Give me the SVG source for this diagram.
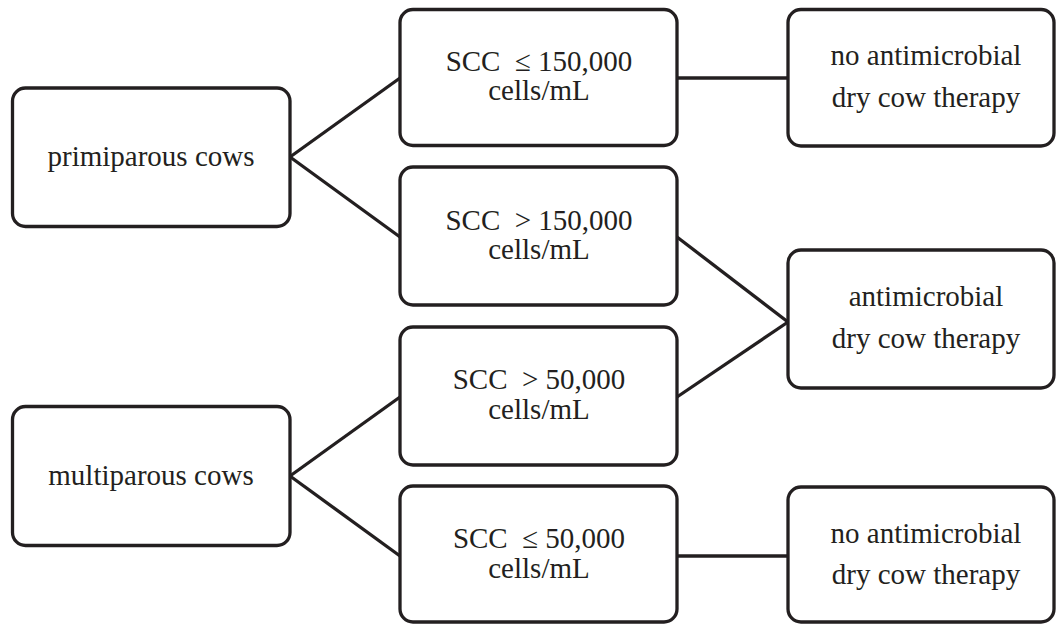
<svg xmlns="http://www.w3.org/2000/svg" width="1057" height="624" viewBox="0 0 1057 624">
<style>
.box{fill:#fff;stroke:#231f20;stroke-width:3.3}
.ln{stroke:#231f20;stroke-width:3.3;fill:none}
.t{font-family:'Liberation Serif',serif;font-size:29px;fill:#231f20;text-anchor:middle}
</style>
<rect width="1057" height="624" fill="#fff"/>
<g id="connectors">
<line class="ln" x1="290" y1="157" x2="400" y2="78"/>
<line class="ln" x1="290" y1="157" x2="400" y2="237"/>
<line class="ln" x1="290" y1="476" x2="400" y2="397"/>
<line class="ln" x1="290" y1="476" x2="400" y2="556"/>
<line class="ln" x1="677" y1="78" x2="788" y2="78"/>
<line class="ln" x1="677" y1="237" x2="788" y2="322"/>
<line class="ln" x1="677" y1="397" x2="788" y2="322"/>
<line class="ln" x1="677" y1="556" x2="788" y2="556"/>
</g>
<g id="primiparous">
<rect class="box" x="12.5" y="88" width="277.5" height="138.5" rx="13"/>
<text class="t" x="151" y="166">primiparous cows</text>
</g>
<g id="multiparous">
<rect class="box" x="12.5" y="406.5" width="277.5" height="139" rx="13"/>
<text class="t" x="151" y="485">multiparous cows</text>
</g>
<g id="scc1">
<rect class="box" x="400" y="9.5" width="277" height="136" rx="13"/>
<text class="t" x="539" y="71" xml:space="preserve">SCC  ≤ 150,000</text>
<text class="t" x="539" y="100">cells/mL</text>
</g>
<g id="scc2">
<rect class="box" x="400" y="167" width="277" height="138" rx="13"/>
<text class="t" x="539" y="230" xml:space="preserve">SCC  &gt; 150,000</text>
<text class="t" x="539" y="259">cells/mL</text>
</g>
<g id="scc3">
<rect class="box" x="400" y="327" width="277" height="138" rx="13"/>
<text class="t" x="539" y="389" xml:space="preserve">SCC  &gt; 50,000</text>
<text class="t" x="539" y="419">cells/mL</text>
</g>
<g id="scc4">
<rect class="box" x="400" y="486" width="277" height="136" rx="13"/>
<text class="t" x="539" y="548" xml:space="preserve">SCC  ≤ 50,000</text>
<text class="t" x="539" y="578">cells/mL</text>
</g>
<g id="noamt1">
<rect class="box" x="788" y="9.5" width="266" height="136.5" rx="13"/>
<text class="t" x="926" y="65">no antimicrobial</text>
<text class="t" x="926" y="107">dry cow therapy</text>
</g>
<g id="amt">
<rect class="box" x="788" y="250" width="266" height="138" rx="13"/>
<text class="t" x="926" y="306">antimicrobial</text>
<text class="t" x="926" y="348">dry cow therapy</text>
</g>
<g id="noamt2">
<rect class="box" x="788" y="487" width="266" height="135" rx="13"/>
<text class="t" x="926" y="543">no antimicrobial</text>
<text class="t" x="926" y="584">dry cow therapy</text>
</g>
</svg>
